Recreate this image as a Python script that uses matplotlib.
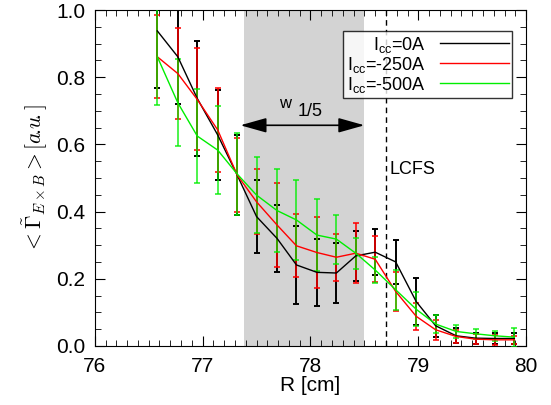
import numpy as np
import matplotlib
matplotlib.use('Agg')
import matplotlib.pyplot as plt
from matplotlib.ticker import MultipleLocator, FormatStrFormatter

plt.rcParams['font.family'] = ['Liberation Sans', 'DejaVu Sans']
plt.rcParams['mathtext.fontset'] = 'custom'
plt.rcParams['mathtext.rm'] = 'Liberation Sans'
plt.rcParams['mathtext.it'] = 'Liberation Sans:italic'

# radial positions [cm]
R = [76.58, 76.77, 76.95, 77.14, 77.32, 77.50, 77.69, 77.87, 78.06, 78.24,
     78.42, 78.60, 78.79, 78.98, 79.16, 79.35, 79.53, 79.71, 79.89]

# I_cc = 0A
g0 = [0.938, 0.861, 0.737, 0.628, 0.509, 0.385, 0.320, 0.241, 0.219, 0.217,
      0.268, 0.279, 0.250, 0.132, 0.060, 0.030, 0.023, 0.022, 0.022]
e0 = [0.17, 0.14, 0.17, 0.133, 0.12, 0.108, 0.10, 0.115, 0.10, 0.088,
      0.075, 0.068, 0.065, 0.07, 0.033, 0.022, 0.016, 0.015, 0.016]

# I_cc = -250A
g250 = [0.861, 0.811, 0.734, 0.643, 0.509, 0.429, 0.360, 0.298, 0.278, 0.264,
        0.276, 0.258, 0.162, 0.088, 0.048, 0.028, 0.020, 0.018, 0.018]
e250 = [0.123, 0.136, 0.152, 0.126, 0.11, 0.097, 0.124, 0.094, 0.107, 0.07,
        0.09, 0.068, 0.058, 0.04, 0.03, 0.02, 0.015, 0.015, 0.012]

# I_cc = -500A
g500 = [0.861, 0.724, 0.625, 0.583, 0.512, 0.449, 0.403, 0.375, 0.330, 0.318,
        0.276, 0.226, 0.167, 0.109, 0.065, 0.043, 0.036, 0.030, 0.026]
e500 = [0.144, 0.13, 0.139, 0.13, 0.122, 0.113, 0.123, 0.119, 0.106, 0.073,
        0.046, 0.04, 0.06, 0.05, 0.028, 0.02, 0.015, 0.015, 0.028]

labels = [r'I$_{\rm cc}$=0A', r'I$_{\rm cc}$=-250A', r'I$_{\rm cc}$=-500A']
cols = ['black', 'red', '#00ee00']
bar_alpha = [1.0, 0.8, 0.7]

shade = (77.38, 78.50)
lcfs = 78.70

fig = plt.figure(figsize=(5.51, 4.05), dpi=100)
ax = fig.add_axes([0.172, 0.146, 0.783, 0.829])

ax.axvspan(shade[0], shade[1], color='#d3d3d3', lw=0, zorder=0)
ax.axvline(lcfs, color='k', ls=(0, (4, 3)), lw=1.0, zorder=1)

for g, e, c, a, lab in zip([g0, g250, g500], [e0, e250, e500], cols, bar_alpha, labels):
    ax.errorbar(R, g, yerr=e, fmt='none', ecolor=c, elinewidth=1.4, capsize=2.5,
                capthick=1.4, alpha=a, zorder=3)
    ax.plot(R, g, color=c, lw=1.0, label=lab, zorder=4)

ax.annotate('', xy=(77.35, 0.657), xytext=(78.5, 0.657),
            arrowprops=dict(arrowstyle='<|-|>,head_length=1.6,head_width=0.45',
                            color='k', lw=1.2, mutation_scale=10,
                            shrinkA=0, shrinkB=0))
ax.text(77.763, 0.722, 'w', fontsize=12, ha='center', va='center')
ax.text(77.994, 0.699, '1/5', fontsize=13, ha='center', va='center')
ax.text(78.73, 0.524, 'LCFS', fontsize=13, ha='left', va='center')

ax.set_xlim(76, 80)
ax.set_ylim(0, 1.0)
ax.xaxis.set_major_locator(MultipleLocator(1))
ax.xaxis.set_minor_locator(MultipleLocator(0.1))
ax.yaxis.set_major_locator(MultipleLocator(0.2))
ax.yaxis.set_minor_locator(MultipleLocator(0.05))
ax.yaxis.set_major_formatter(FormatStrFormatter('%.1f'))
ax.tick_params(which='both', direction='in', top=True, right=True, labelsize=15)
ax.tick_params(which='major', length=7, pad=7)
ax.tick_params(axis='x', which='major', pad=8)
ax.tick_params(which='minor', length=4)

ax.set_xlabel('R [cm]', fontsize=15, labelpad=0)
yl = ax.set_ylabel(r'$<\tilde{\Gamma}_{E\times B}>[a\!.\!u\!.]$', fontsize=15.5, labelpad=4)
yl.set_math_fontfamily('cm')

leg = ax.legend(loc='upper right', bbox_to_anchor=(0.9675, 0.9375), markerfirst=False,
                fontsize=13, frameon=True, fancybox=False, edgecolor='k',
                handlelength=3.8, handletextpad=0.8, borderpad=0.2,
                labelspacing=0.0, borderaxespad=0)
leg.get_frame().set_linewidth(1.0)
for t in leg.get_texts():
    t.set_ha('right')

fig.savefig('out.png', dpi=100)
